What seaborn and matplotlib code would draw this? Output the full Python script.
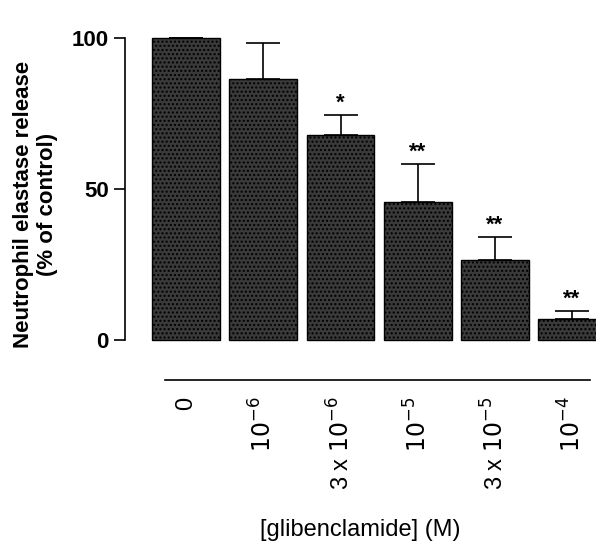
import numpy as np
import pandas as pd
import seaborn as sns
import matplotlib.pyplot as plt

plt.rcParams['hatch.color'] = '#e0e0e0'
plt.rcParams['hatch.linewidth'] = 1.0
plt.rcParams['font.family'] = 'Liberation Sans'

conc = ['0', '$10^{-6}$', '3 x $10^{-6}$', '$10^{-5}$', '3 x $10^{-5}$', '$10^{-4}$']
release = [100, 86.5, 67.9, 45.7, 26.5, 7.0]
err_up = [0, 11.8, 6.6, 12.6, 7.5, 2.6]
stars = ['', '', '*', '**', '**', '**']

df = pd.DataFrame({'conc': conc, 'release': release})

fig = plt.figure(figsize=(6, 5.53), dpi=100)
ax = fig.add_axes([0.208, 0.313, 0.785, 0.633])
sns.barplot(data=df, x='conc', y='release', ax=ax, color='#3a3a3a',
            width=0.88, saturation=1, errorbar=None)
for p in ax.patches:
    p.set_hatch('....')
    p.set_edgecolor('black')
    p.set_linewidth(1.0)

x = np.arange(len(conc))
ax.errorbar(x, release, yerr=[np.zeros(len(conc)), err_up], fmt='none',
            ecolor='black', elinewidth=1.2, capsize=12, capthick=1.2)
for xi, v, e, s in zip(x, release, err_up, stars):
    if s:
        ax.text(xi, v + e + 0.5, s, ha='center', va='bottom',
                fontsize=16, fontweight='bold')

ax.set_xlim(-0.797, 5.31)
ax.set_ylim(-13.2, 102.6)
ax.set_yticks([0, 50, 100])
ax.tick_params(axis='y', labelsize=16, width=1.2, length=8)
for t in ax.get_yticklabels():
    t.set_fontweight('bold')
ax.tick_params(axis='x', length=0, labelsize=17, pad=12)
ax.set_xticks(x)
ax.set_xticklabels(conc, rotation=90, va='top')
ax.spines['top'].set_visible(False)
ax.spines['right'].set_visible(False)
ax.spines['left'].set_bounds(0, 100)
ax.spines['bottom'].set_bounds(-0.28, 5.24)
for s in ['left', 'bottom']:
    ax.spines[s].set_linewidth(1.2)

ax.set_ylabel('Neutrophil elastase release\n(% of control)', fontsize=16,
              fontweight='bold', labelpad=10)
ax.set_xlabel('')
fig.text(0.6, 0.03, '[glibenclamide] (M)', ha='center', fontsize=17)

fig.savefig('out.png', dpi=100)
